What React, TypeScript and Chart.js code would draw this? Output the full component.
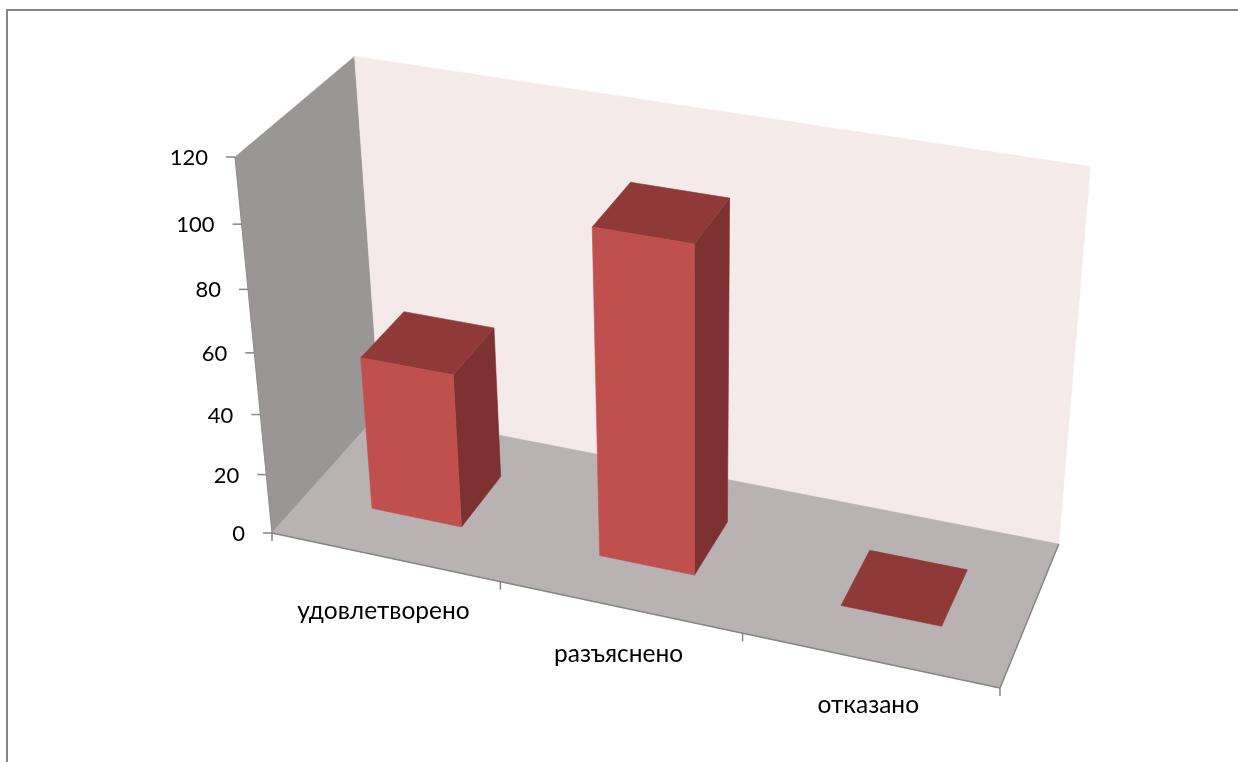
import React, { useEffect, useRef } from "react";
import { Chart, registerables } from "chart.js";

Chart.register(...registerables);

const categories = ["удовлетворено", "разъяснено", "отказано"];
const values = [51, 105, 0];
const yMin = 0;
const yMax = 120;
const yStep = 20;

const FONT = 'Lato, "Noto Sans", sans-serif';
const CATEGORY_FONT_SIZE = 24.5;
const VALUE_FONT_SIZE = 22;
const TEXT = "#000000";
const LINE = "#868686";
const FRONT = "#C0504D";
const TOP = "#8F3A38";
const SIDE = "#7D3130";
const BACK_WALL = "#F5EAEA";
const SIDE_WALL = "#9B9696";
const FLOOR = "#B9B2B3";

// Perspective box: screen positions of box corners and the projective weights.
const O = { x: 272, y: 533 };
const U = { x: 1000, y: 688 };
const V = { x: 380, y: 412 };
const W = { x: 235, y: 157 };
const PA = -0.086;
const PB = 0.08;
const PC = -0.08;
const DEPTH_FROM = 0.3;
const DEPTH_TO = 0.7;
const CATEGORY_LABEL_DROP = [54, 47, 45];

type P = { x: number; y: number };

function project(u: number, v: number, w: number): P {
  const d = 1 + PA * u + PB * v + PC * w;
  const f = (k: "x" | "y") =>
    (O[k] +
      u * (U[k] * (1 + PA) - O[k]) +
      v * (V[k] * (1 + PB) - O[k]) +
      w * (W[k] * (1 + PC) - O[k])) /
    d;
  return { x: f("x"), y: f("y") };
}

function poly(ctx: CanvasRenderingContext2D, pts: P[], fill: string) {
  ctx.beginPath();
  pts.forEach((p, i) => (i ? ctx.lineTo(p.x, p.y) : ctx.moveTo(p.x, p.y)));
  ctx.closePath();
  ctx.fillStyle = fill;
  ctx.fill();
  ctx.strokeStyle = fill;
  ctx.lineWidth = 0.6;
  ctx.stroke();
}

function seg(ctx: CanvasRenderingContext2D, a: P, b: P, width = 1.5) {
  ctx.beginPath();
  ctx.moveTo(a.x, a.y);
  ctx.lineTo(b.x, b.y);
  ctx.strokeStyle = LINE;
  ctx.lineWidth = width;
  ctx.stroke();
}

const perspectivePlugin = {
  id: "perspectiveBox",
  beforeDatasetDraw() {
    return false;
  },
  afterDatasetsDraw(chart: any) {
    const ctx: CanvasRenderingContext2D = chart.ctx;
    const area = chart.chartArea;
    const xs = chart.scales.x;
    const ys = chart.scales.y;
    const toU = (px: number) => (px - area.left) / area.width;
    const toW = (py: number) => (area.bottom - py) / area.height;

    ctx.save();
    // frame
    ctx.fillStyle = LINE;
    ctx.fillRect(6, 9, chart.width - 6, 2);
    ctx.fillRect(6, 9, 2, chart.height - 9);

    // walls
    poly(ctx, [project(0, 0, 0), project(0, 1, 0), project(0, 1, 1), project(0, 0, 1)], SIDE_WALL);
    poly(ctx, [project(0, 1, 0), project(1, 1, 0), project(1, 1, 1), project(0, 1, 1)], BACK_WALL);
    poly(ctx, [project(0, 0, 0), project(1, 0, 0), project(1, 1, 0), project(0, 1, 0)], FLOOR);
    seg(ctx, project(0, 0, 0), project(1, 0, 0));
    seg(ctx, project(1, 0, 0), project(1, 1, 0));
    seg(ctx, project(0, 0, 0), project(0, 0, 1), 0.8);

    // value axis ticks and labels
    ctx.font = `${VALUE_FONT_SIZE}px ${FONT}`;
    ctx.textAlign = "right";
    ctx.textBaseline = "middle";
    ys.ticks.forEach((t: any) => {
      const p = project(0, 0, toW(ys.getPixelForValue(t.value)));
      seg(ctx, { x: p.x - 9, y: p.y }, p);
      ctx.fillStyle = TEXT;
      ctx.fillText(String(t.value), p.x - 27, p.y + 1);
    });

    // category axis ticks and labels
    const n = categories.length;
    for (let i = 0; i <= n; i++) {
      const p = project(i / n, 0, 0);
      seg(ctx, p, { x: p.x, y: p.y + 8 });
    }
    ctx.font = `${CATEGORY_FONT_SIZE}px ${FONT}`;
    ctx.textAlign = "center";
    categories.forEach((label, i) => {
      const p = project(toU(xs.getPixelForValue(i)), 0, 0);
      ctx.fillStyle = TEXT;
      ctx.fillText(label, p.x - 1, p.y + CATEGORY_LABEL_DROP[i]);
    });

    // bars, from the library's own bar elements
    chart.getDatasetMeta(0).data.forEach((bar: any) => {
      const { x, y, base, width } = bar.getProps(["x", "y", "base", "width"], true);
      const u0 = toU(x - width / 2);
      const u1 = toU(x + width / 2);
      const w0 = toW(base);
      const w1 = toW(y);
      const v0 = DEPTH_FROM;
      const v1 = DEPTH_TO;
      if (w1 > w0) {
        poly(ctx, [project(u1, v0, w0), project(u1, v1, w0), project(u1, v1, w1), project(u1, v0, w1)], SIDE);
      }
      poly(ctx, [project(u0, v0, w1), project(u1, v0, w1), project(u1, v1, w1), project(u0, v1, w1)], TOP);
      if (w1 > w0) {
        poly(ctx, [project(u0, v0, w0), project(u1, v0, w0), project(u1, v0, w1), project(u0, v0, w1)], FRONT);
      }
    });
    ctx.restore();
  },
};

export default function App() {
  const ref = useRef<HTMLCanvasElement | null>(null);
  useEffect(() => {
    if (!ref.current) return;
    const chart = new Chart(ref.current, {
      type: "bar",
      data: {
        labels: categories,
        datasets: [
          {
            data: values,
            backgroundColor: FRONT,
            barPercentage: 0.4,
            categoryPercentage: 1,
          },
        ],
      },
      options: {
        animation: false,
        responsive: false,
        devicePixelRatio: 1,
        layout: { padding: 0 },
        plugins: { legend: { display: false }, title: { display: false }, tooltip: { enabled: false } },
        scales: {
          x: { display: false, offset: true },
          y: { display: false, min: yMin, max: yMax, ticks: { stepSize: yStep } },
        },
      },
      plugins: [perspectivePlugin],
    } as any);
    return () => chart.destroy();
  }, []);
  return (
    <div style={{ position: "fixed", left: 0, top: 0, width: 1238, height: 762, background: "#fff" }}>
      <canvas ref={ref} width={1238} height={762} style={{ display: "block", filter: "blur(0.4px)" }} />
    </div>
  );
}
